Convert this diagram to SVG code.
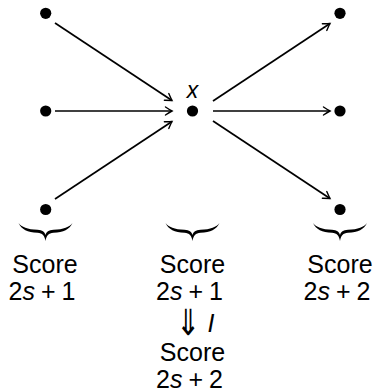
<svg xmlns="http://www.w3.org/2000/svg" width="381" height="392" viewBox="0 0 381 392">
<defs>
<style>
.dot{fill:#000}
.edge{stroke:#000;stroke-width:1.7;fill:none;marker-end:url(#ah)}
.t{font-family:"Liberation Sans","DejaVu Sans",sans-serif;font-size:25px;fill:#000;text-anchor:middle}
.it{font-style:italic}
.brace{fill:#000}
.arr{font-family:"DejaVu Sans",sans-serif;font-weight:200;font-size:23px;fill:#000;text-anchor:middle}
</style>
<marker id="ah" viewBox="-8 -5 10 10" refX="0" refY="0" markerWidth="10" markerHeight="10" markerUnits="userSpaceOnUse" orient="auto">
<path d="M-6.5,-4 Q-2,-1 0,0 Q-2,1 -6.5,4" fill="none" stroke="#000" stroke-width="1.4" stroke-linecap="round"/>
</marker>
<path id="br" d="M-27,0 C-24,6.5 -18,9.3 -8,9.8 C-3,10.1 -1,12.5 0,18 C1,12.5 3,10.1 8,9.8 C18,9.3 24,6.5 27,0 C24,4 18,6.6 8,6.8 C3,7 1,8.8 0,12 C-1,8.8 -3,7 -8,6.8 C-18,6.6 -24,4 -27,0 Z"/>
</defs>
<g id="connectors">
<line class="edge" x1="55" y1="23" x2="172" y2="100.5"/>
<line class="edge" x1="55" y1="111" x2="172" y2="111"/>
<line class="edge" x1="55" y1="199" x2="172" y2="121.5"/>
<line class="edge" x1="213" y1="101" x2="330" y2="23.5"/>
<line class="edge" x1="213" y1="111" x2="330" y2="111"/>
<line class="edge" x1="213" y1="121" x2="330" y2="198.5"/>
</g>
<g id="n-tl"><circle class="dot" cx="45.7" cy="13.3" r="5.6"/></g>
<g id="n-ml"><circle class="dot" cx="45.7" cy="111" r="5.6"/></g>
<g id="n-bl"><circle class="dot" cx="45.7" cy="209.5" r="5.6"/></g>
<g id="n-x"><circle class="dot" cx="192.5" cy="111" r="5.6"/><text class="t it" x="192.5" y="98" style="font-size:23px">x</text></g>
<g id="n-tr"><circle class="dot" cx="340" cy="13.3" r="5.6"/></g>
<g id="n-mr"><circle class="dot" cx="340" cy="111" r="5.6"/></g>
<g id="n-br"><circle class="dot" cx="340" cy="209.5" r="5.6"/></g>
<g id="label-left">
<use href="#br" class="brace" x="45.5" y="223"/>
<text class="t" x="45" y="273">Score</text>
<text class="t" x="42" y="300" xml:space="preserve">2<tspan class="it">s</tspan><tspan dx="6">+</tspan><tspan dx="6">1</tspan></text>
</g>
<g id="label-center">
<use href="#br" class="brace" x="192.5" y="223"/>
<text class="t" x="192.5" y="273">Score</text>
<text class="t" x="189.5" y="300" xml:space="preserve">2<tspan class="it">s</tspan><tspan dx="6">+</tspan><tspan dx="6">1</tspan></text>
<text class="arr" transform="translate(188,335) scale(1.25,1.55)">⇓</text>
<text class="t it" x="211" y="332">I</text>
<text class="t" x="192.5" y="361">Score</text>
<text class="t" x="189.5" y="388" xml:space="preserve">2<tspan class="it">s</tspan><tspan dx="6">+</tspan><tspan dx="6">2</tspan></text>
</g>
<g id="label-right">
<use href="#br" class="brace" x="340" y="223"/>
<text class="t" x="340" y="273">Score</text>
<text class="t" x="337" y="300" xml:space="preserve">2<tspan class="it">s</tspan><tspan dx="6">+</tspan><tspan dx="6">2</tspan></text>
</g>
</svg>
